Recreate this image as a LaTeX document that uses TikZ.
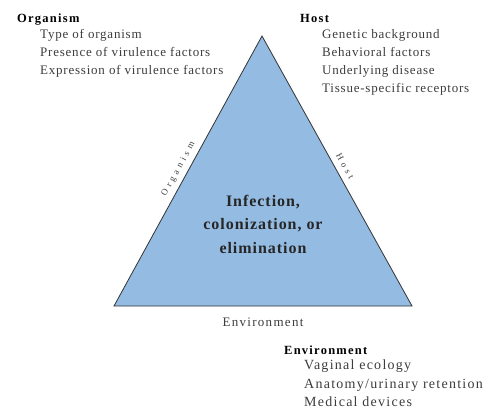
\documentclass[tikz,border=0pt]{standalone}
\usepackage{fontspec}
\setmainfont{Liberation Serif}
\usetikzlibrary{positioning}
\definecolor{triblue}{RGB}{148,187,226}
\definecolor{txtgray}{RGB}{60,60,60}
\tikzset{
	head/.style={anchor=base west,font=\fontsize{12.5}{14}\selectfont\bfseries\addfontfeatures{LetterSpace=10},text=black,inner sep=0pt},
	items/.style={anchor=north west,align=left,font=\fontsize{13}{18.2}\selectfont\addfontfeatures{LetterSpace=6},text=txtgray,inner sep=0pt},
	side/.style={font=\fontsize{9}{10}\selectfont\addfontfeatures{LetterSpace=40},text=txtgray,inner sep=0pt}
}
\begin{document}
\begin{tikzpicture}[x=1pt,y=-1pt]

	% bounding box
	\useasboundingbox (0,0) rectangle (487,416);

	% corners of the triangle
	\coordinate (apex) at (262,36);
	\coordinate (left) at (114,306);
	\coordinate (right) at (412,306);

	% triangle
	\draw[fill=triblue,line width=0.8pt,draw=black!80] (apex)--(right)--(left)--cycle;

	% side labels
	\path (left)--(apex) node[side,pos=0.49,above=5pt,sloped] (orgside) {Organism};
	\path (apex)--(right) node[side,pos=0.50,above=6pt,sloped] (hostside) {Host};
	\node[font=\fontsize{13}{14}\selectfont\addfontfeatures{LetterSpace=10},text=txtgray] (envlabel) at (263,322) {Environment};

	% center text
	\node[align=center,font=\fontsize{16}{23.5}\selectfont\bfseries\addfontfeatures{LetterSpace=6},text=black!85] (outcome) at (263,224)
		{Infection,\\colonization, or\\elimination};

	% organism
	\node[head] (orghead) at (17,22) {Organism};
	\node[items] (orglist) at (40,29) {Type of organism\\Presence of virulence factors\\Expression of virulence factors};

	% host
	\node[head] (hosthead) at (300,22) {Host};
	\node[items] (hostlist) at (322,29) {Genetic background\\Behavioral factors\\Underlying disease\\Tissue-specific receptors};

	% environment
	\node[head] (envhead) at (284,354) {Environment};
	\node[items,font=\fontsize{14}{18.5}\selectfont\addfontfeatures{LetterSpace=9}] (envlist) at (304,360) {Vaginal ecology\\Anatomy/urinary retention\\Medical devices};

\end{tikzpicture}
\end{document}
